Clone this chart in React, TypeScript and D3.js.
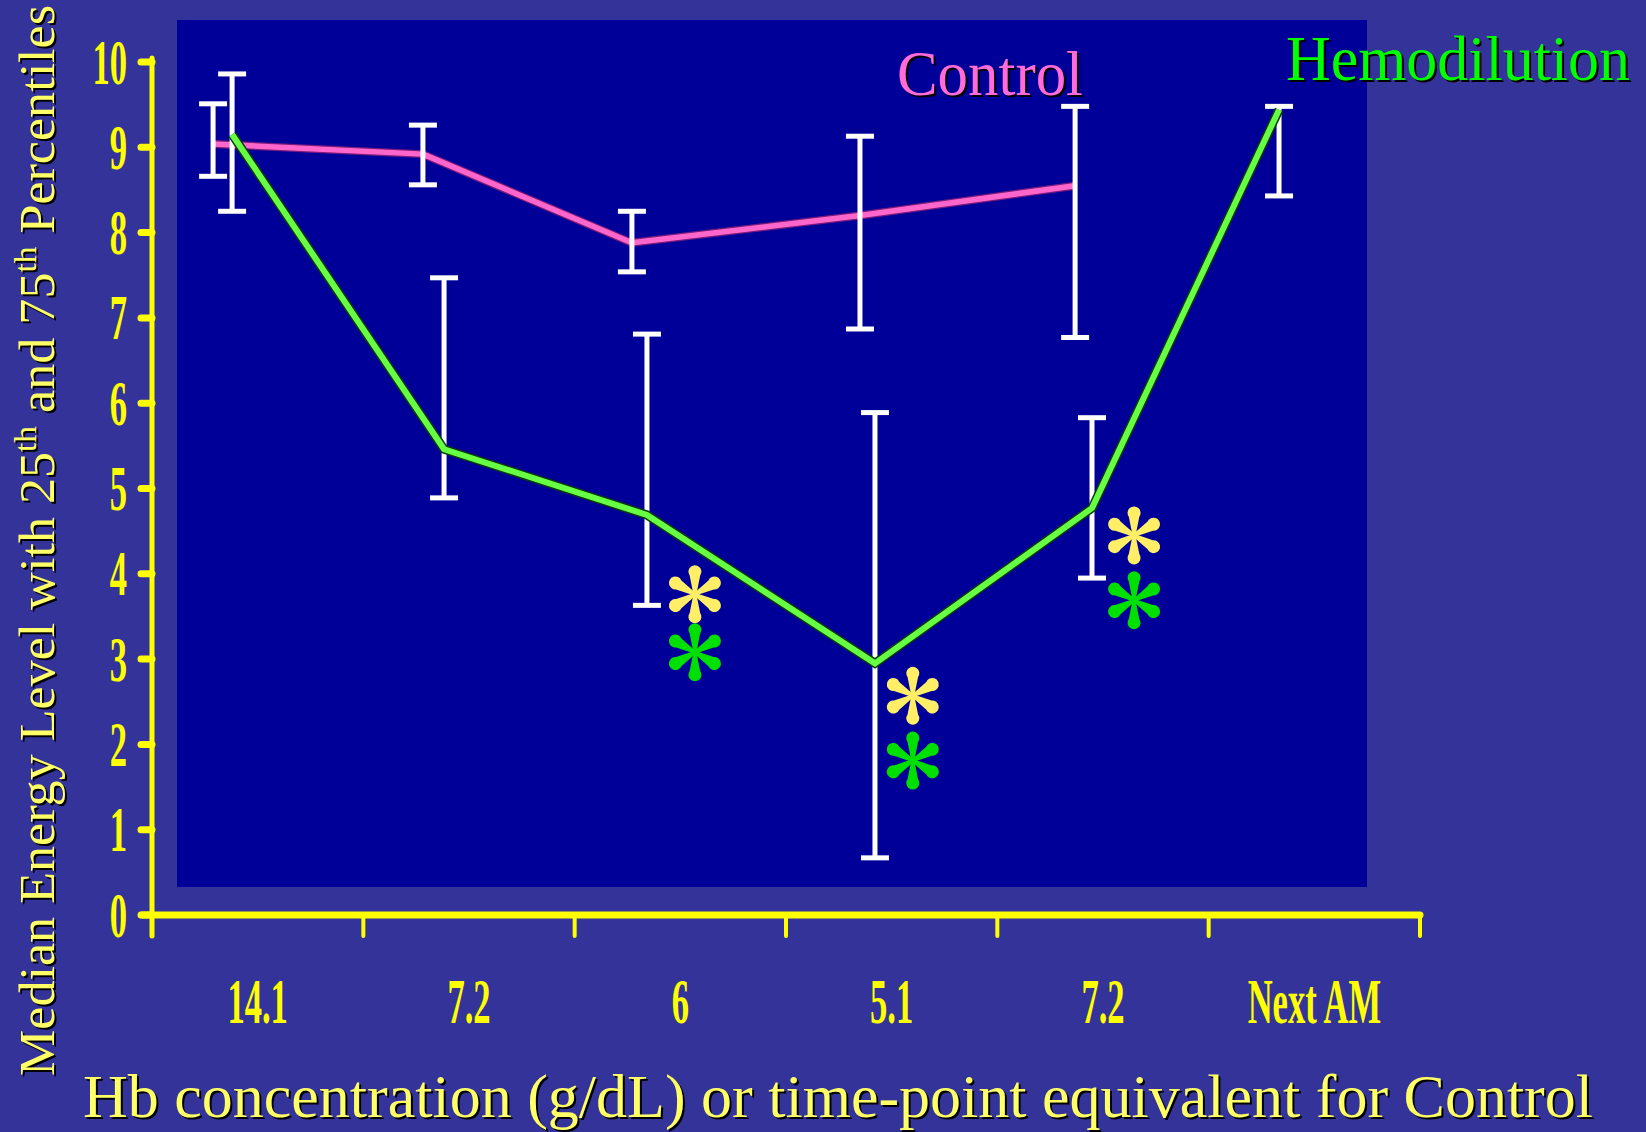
import React from 'react';
import * as d3 from 'd3';

// ---------- data ----------
const categories = ['14.1', '7.2', '6', '5.1', '7.2', 'Next AM'];
const yTicks = [0, 1, 2, 3, 4, 5, 6, 7, 8, 9, 10];

// x positions expressed in category units (band index + offset inside the band)
const controlPos = [0.289, 1.282, 2.271, 3.35, 4.368];
const controlMedian = [9.04, 8.92, 7.88, 8.2, 8.55];
const controlP25 = [8.66, 8.56, 7.54, 6.87, 6.77];
const controlP75 = [9.51, 9.26, 8.25, 9.13, 9.48];

const hemoPos = [0.379, 1.382, 2.342, 3.421, 4.448, 5.333];
const hemoMedian = [9.15, 5.46, 4.69, 2.95, 4.77, 9.44];
const hemoP25 = [8.25, 4.89, 3.63, 0.67, 3.95, 8.43];
const hemoP75 = [9.86, 7.47, 6.81, 5.89, 5.83, 9.48];

// significance asterisks
const sigPos = [2.569, 3.6, 4.647];
const sigYellowVal = [3.76, 2.57, 4.45];
const sigGreenVal = [3.08, 1.81, 3.69];

const yTitleParts = ['Median Energy Level with 25', 'th', ' and 75', 'th', ' Percentiles'];
const xTitle = 'Hb concentration (g/dL) or time-point equivalent for Control';

// ---------- layout ----------
const W = 1646;
const H = 1132;
const SERIF = '"Liberation Serif", "Times New Roman", serif';

const x = d3.scaleLinear().domain([0, categories.length]).range([152, 1420]);
const y = d3.scaleLinear().domain([0, 10]).range([915, 62]);

function petalPath(R: number, r: number) {
  const cy = -(R - r);
  const ax = r * Math.cos(Math.PI / 5);
  const ay = cy + r * Math.sin(Math.PI / 5);
  return `M -1.5 0 L ${-ax} ${ay} A ${r} ${r} 0 1 1 ${ax} ${ay} L 1.5 0 Z`;
}

function Asterisk({ cx, cy, color }: { cx: number; cy: number; color: string }) {
  const d = petalPath(29, 6.5);
  return (
    <g transform={`translate(${cx},${cy})`}>
      {[0, 60, 120, 180, 240, 300].map((a) => (
        <path key={a} d={d} fill={color} transform={`rotate(${a})`} />
      ))}
    </g>
  );
}

function ShadowText(props: any) {
  const { children, fill, dx = 2, dy = 2, ...rest } = props;
  return (
    <g>
      <text {...rest} fill="#000" transform={`translate(${dx},${dy})`}>
        {children}
      </text>
      <text {...rest} fill={fill}>
        {children}
      </text>
    </g>
  );
}

export default function App() {
  const line = d3
    .line<[number, number]>()
    .x((d) => x(d[0]))
    .y((d) => y(d[1]));

  const controlPts: [number, number][] = controlPos.map((p, i) => [p, controlMedian[i]]);
  const hemoPts: [number, number][] = hemoPos.map((p, i) => [p, hemoMedian[i]]);

  const capW = 28;
  const errBar = (p: number, lo: number, hi: number, key: string) => {
    const cx = x(p);
    return (
      <g key={key} stroke="#FFFFFF" strokeWidth={5}>
        <line x1={cx} x2={cx} y1={y(hi)} y2={y(lo)} />
        <line x1={cx - capW / 2} x2={cx + capW / 2} y1={y(hi)} y2={y(hi)} />
        <line x1={cx - capW / 2} x2={cx + capW / 2} y1={y(lo)} y2={y(lo)} />
      </g>
    );
  };

  const tickScale = 0.54;

  return (
    <svg
      width={W}
      height={H}
      viewBox={`0 0 ${W} ${H}`}
      style={{ position: 'absolute', left: 0, top: 0, display: 'block' }}
    >
      <rect x={0} y={0} width={W} height={H} fill="#333399" />
      {/* inner plot panel */}
      <rect x={177} y={20} width={1190} height={867} fill="#000099" />

      {/* control line (under error bars) */}
      <path d={line(controlPts) || ''} fill="none" stroke="#7a1a7a" strokeWidth={8} strokeLinejoin="round" />
      <path d={line(controlPts) || ''} fill="none" stroke="#FF66CC" strokeWidth={5.5} strokeLinejoin="round" />

      {/* error bars */}
      {controlPos.map((p, i) => errBar(p, controlP25[i], controlP75[i], 'c' + i))}
      {hemoPos.map((p, i) => errBar(p, hemoP25[i], hemoP75[i], 'h' + i))}

      {/* hemodilution line */}
      <path d={line(hemoPts) || ''} fill="none" stroke="#0a3a10" strokeWidth={9} strokeLinejoin="miter" />
      <path d={line(hemoPts) || ''} fill="none" stroke="#66FF44" strokeWidth={6} strokeLinejoin="miter" />

      {/* asterisks */}
      {sigPos.map((p, i) => (
        <g key={'s' + i}>
          <Asterisk cx={x(p)} cy={y(sigYellowVal[i])} color="#FFEE66" />
          <Asterisk cx={x(p)} cy={y(sigGreenVal[i])} color="#00E000" />
        </g>
      ))}

      {/* legend labels */}
      <ShadowText x={897} y={95} fontFamily={SERIF} fontSize={64} fill="#FF6BD9" textLength={186} lengthAdjust="spacingAndGlyphs">
        Control
      </ShadowText>
      <ShadowText x={1286} y={80} fontFamily={SERIF} fontSize={64} fill="#00FF00" textLength={344} lengthAdjust="spacingAndGlyphs">
        Hemodilution
      </ShadowText>

      {/* axes */}
      <g stroke="#FFFF00" strokeLinecap="round">
        <line x1={152} x2={152} y1={y(10) - 4} y2={936} strokeWidth={5} />
        <line x1={142} x2={x(categories.length)} y1={y(0)} y2={y(0)} strokeWidth={7} />
        {yTicks.map((t) => (
          <line key={'yt' + t} x1={141} x2={152} y1={y(t)} y2={y(t)} strokeWidth={7} />
        ))}
        {d3.range(1, categories.length + 1).map((i) => (
          <line key={'xt' + i} x1={x(i)} x2={x(i)} y1={y(0)} y2={936} strokeWidth={4} />
        ))}
      </g>

      {/* y tick labels */}
      {yTicks.map((t) => (
        <text
          key={'yl' + t}
          transform={`translate(127,${y(t) + 21.5}) scale(${tickScale},1)`}
          textAnchor="end"
          fontFamily={SERIF}
          fontWeight="bold"
          fontSize={64}
          fill="#FFFF00"
        >
          {t}
        </text>
      ))}

      {/* x tick labels */}
      {categories.map((c, i) => (
        <text
          key={'xl' + i}
          transform={`translate(${x(i + 0.5)},1023) scale(${tickScale},1)`}
          textAnchor="middle"
          fontFamily={SERIF}
          fontWeight="bold"
          fontSize={64}
          fill="#FFFF00"
        >
          {c}
        </text>
      ))}

      {/* x title */}
      <ShadowText x={83} y={1117} fontFamily={SERIF} fontSize={62} fill="#FFFF66" textLength={1510} lengthAdjust="spacingAndGlyphs">
        {xTitle}
      </ShadowText>

      {/* y title */}
      {[
        { dx: 2, dy: 2, fill: '#000' },
        { dx: 0, dy: 0, fill: '#FFFF66' },
      ].map((s, k) => (
        <text
          key={'yti' + k}
          transform={`translate(${54 + s.dx},${1076 + s.dy}) rotate(-90)`}
          fontFamily={SERIF}
          fontSize={50}
          fill={s.fill}
          textLength={1071}
          lengthAdjust="spacingAndGlyphs"
        >
          <tspan>{yTitleParts[0]}</tspan>
          <tspan fontSize={32} dy={-18}>{yTitleParts[1]}</tspan>
          <tspan dy={18}>{yTitleParts[2]}</tspan>
          <tspan fontSize={32} dy={-18}>{yTitleParts[3]}</tspan>
          <tspan dy={18}>{yTitleParts[4]}</tspan>
        </text>
      ))}
    </svg>
  );
}
